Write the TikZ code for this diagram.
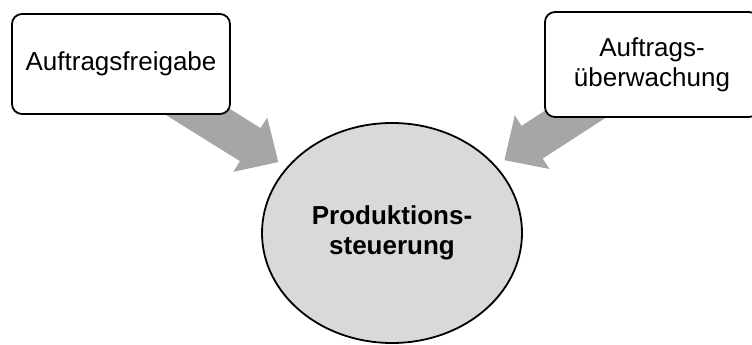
\documentclass[tikz,border=0pt]{standalone}
\usepackage{fontspec}
\setmainfont{Liberation Sans}
\usetikzlibrary{calc,shapes.geometric}

\definecolor{arrowgray}{RGB}{166,166,166}
\definecolor{corefill}{RGB}{217,217,217}

\tikzset{
  task/.style={draw, line width=1.8pt, rounded corners=10pt, fill=white,
    align=center, font=\fontsize{26}{30}\selectfont, inner sep=0pt},
  core/.style={ellipse, draw, line width=1.8pt, fill=corefill,
    minimum width=260pt, minimum height=220pt, inner sep=0pt,
    align=center, font=\fontsize{26}{30}\selectfont\bfseries},
  blockarrow/.style={fill=arrowgray, draw=none}
}

% Broad arrow pointing from node #1 towards node #2, its tip
% stopping just short of the outline of #2.
\newcommand\broadarrow[2]{%
  \pgfmathanglebetweenpoints{\pgfpointanchor{#1}{center}}{\pgfpointanchor{#2}{center}}%
  \edef\arrowangle{\pgfmathresult}%
  \begin{scope}[shift={($(#2.center)!134pt!(#1.center)$)}, rotate=\arrowangle]
    \fill[blockarrow] (0,0) -- (-33,32) -- (-33,19.5) -- (-150,19.5)
      -- (-150,-19.5) -- (-33,-19.5) -- (-33,-32) -- cycle;
  \end{scope}%
}

\begin{document}
\begin{tikzpicture}[x=1pt, y=1pt]
  \clip (0,0) rectangle (752,345);

  % positions only; the boxes are drawn after the arrows
  \coordinate (pfg) at (121,281);
  \coordinate (pue) at (652,280.5);
  \node[core] (ps) at (392,112) {Produktions-\\steuerung};

  \path (pfg) node[minimum width=218pt, minimum height=100pt] (fg) {};
  \path (pue) node[minimum width=214pt, minimum height=105pt] (ue) {};

  \broadarrow{fg}{ps}
  \broadarrow{ue}{ps}

  \node[task, minimum width=218pt, minimum height=100pt] (freigabe) at (pfg)
    {Auftragsfreigabe};
  \node[task, minimum width=214pt, minimum height=105pt] (ueberwachung) at (pue)
    {Auftrags-\\überwachung};
\end{tikzpicture}
\end{document}
